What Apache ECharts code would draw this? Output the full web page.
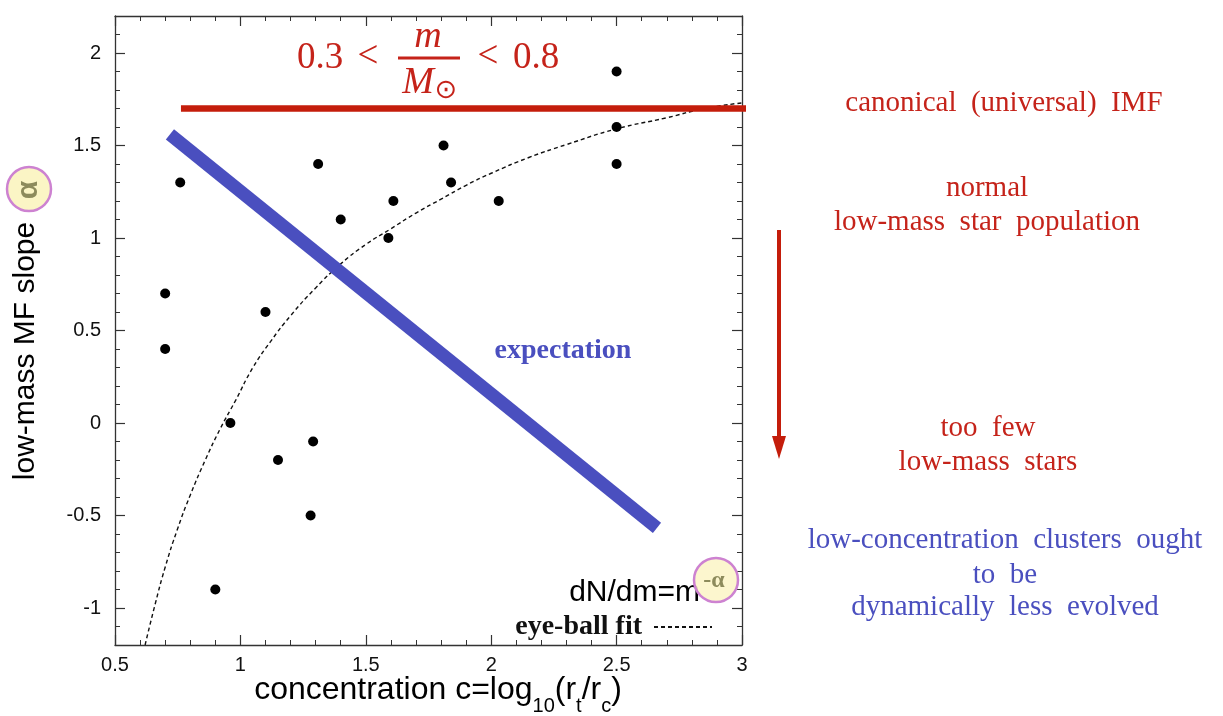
<!DOCTYPE html>
<html>
<head>
<meta charset="utf-8">
<script src="https://cdn.jsdelivr.net/npm/echarts@6/dist/echarts.min.js"></script>
<style>
  html, body { margin: 0; padding: 0; background: #fff; }
  #chart { width: 1223px; height: 716px; }
</style>
</head>
<body>
<div id="chart"></div>
<script>
// Globular clusters: low-mass mass-function slope against concentration
const clusterConcentration = [0.76, 0.70, 0.70, 1.10, 1.31, 1.40, 1.61, 1.59, 1.81, 1.84, 2.03, 2.50, 2.50, 2.50, 0.96, 1.15, 1.29, 1.28, 0.90];
const clusterSlope         = [1.30, 0.70, 0.40, 0.60, 1.40, 1.10, 1.20, 1.00, 1.50, 1.30, 1.20, 1.90, 1.60, 1.40, 0.00, -0.20, -0.10, -0.50, -0.90];

// hand-drawn ("eye-ball") fit through the clusters
const fitConcentration = [0.62, 0.66, 0.70, 0.75, 0.80, 0.86, 0.92, 0.98, 1.05, 1.12, 1.20, 1.30, 1.40, 1.50, 1.60, 1.70, 1.80, 1.90, 2.00, 2.15, 2.30, 2.50, 2.70, 2.85, 3.00];
const fitSlope         = [-1.20, -0.98, -0.78, -0.57, -0.39, -0.20, -0.03, 0.12, 0.30, 0.44, 0.58, 0.73, 0.86, 0.965, 1.05, 1.135, 1.21, 1.285, 1.35, 1.435, 1.505, 1.59, 1.65, 1.70, 1.73];

// expected trend: low-concentration clusters keep a steep slope
const expectationX = [0.719, 2.661];
const expectationY = [1.56, -0.567];

// canonical IMF slope for 0.3 < m/Msun < 0.8
const canonicalX = [0.763, 3.136];
const canonicalY = [1.7, 1.7];

const yMajorTicks = [-1, -0.5, 0, 0.5, 1, 1.5, 2];

const RED = '#c5231a';
const RED_LINE = '#c41d0b';
const BLUE = '#4a4fbf';
const AXIS = '#333';
const SANS = '"Liberation Sans", Arial, sans-serif';
const SERIF = '"Liberation Serif", "Times New Roman", serif';

const zip = (xs, ys) => xs.map((x, i) => [x, ys[i]]);
const isMajor = v => Math.abs(v * 2 - Math.round(v * 2)) < 1e-6;

function xAxisDef(position, showLabel) {
  return {
    type: 'value', position: position, min: 0.5, max: 3, interval: 0.5,
    axisLine: { show: true, onZero: false, lineStyle: { color: AXIS, width: 1.3 } },
    axisTick: { show: true, inside: true, length: 10, lineStyle: { color: AXIS, width: 1.2 } },
    minorTick: { show: true, splitNumber: 5, length: 5, lineStyle: { color: AXIS, width: 1 } },
    axisLabel: { show: showLabel, margin: 10, fontFamily: SANS, fontSize: 20, color: '#111' },
    splitLine: { show: false }, minorSplitLine: { show: false }
  };
}
function yMinorAxis(position, showLabel) {
  return {
    type: 'value', position: position, min: -1.2, max: 2.2, interval: 0.1,
    axisLine: { show: true, onZero: false, lineStyle: { color: AXIS, width: 1.3 } },
    axisTick: { show: true, inside: true, length: 5, lineStyle: { color: AXIS, width: 1 } },
    axisLabel: {
      show: showLabel, margin: 14, fontFamily: SANS, fontSize: 20, color: '#111',
      formatter: v => isMajor(v) ? String(Math.round(v * 2) / 2) : ''
    },
    splitLine: { show: false }
  };
}
function yMajorAxis(position) {
  return {
    type: 'value', position: position, min: -1.2, max: 2.2,
    axisLine: { show: false },
    axisTick: { show: true, inside: true, length: 10, customValues: yMajorTicks, lineStyle: { color: AXIS, width: 1.2 } },
    axisLabel: { show: false },
    splitLine: { show: false }
  };
}

const chart = echarts.init(document.getElementById('chart'), null, { renderer: 'canvas' });

chart.setOption({
  animation: false,
  backgroundColor: '#fff',
  grid: { left: 115, top: 16, width: 627, height: 629, containLabel: false },
  xAxis: [xAxisDef('bottom', true), xAxisDef('top', false)],
  yAxis: [yMinorAxis('left', true), yMajorAxis('left'), yMinorAxis('right', false), yMajorAxis('right')],
  legend: {
    data: ['eye-ball fit'],
    selectedMode: false,
    right: 510, top: 613, padding: 0,
    align: 'right',
    itemWidth: 58, itemHeight: 14,
    itemStyle: { opacity: 0 },
    textStyle: { fontFamily: SERIF, fontSize: 28, fontWeight: 'bold', color: '#111', padding: [0, 7, 0, 0] }
  },
  series: [
    {
      name: 'eye-ball fit', type: 'line', xAxisIndex: 0, yAxisIndex: 0,
      data: zip(fitConcentration, fitSlope),
      smooth: true, symbol: 'none', showSymbol: false,
      itemStyle: { color: '#111' },
      lineStyle: { color: '#111', width: 1.4, type: [4, 3] }, z: 2
    },
    {
      name: 'expectation', type: 'line', xAxisIndex: 0, yAxisIndex: 0,
      data: zip(expectationX, expectationY),
      symbol: 'none', showSymbol: false,
      lineStyle: { color: BLUE, width: 13, cap: 'butt' }, z: 3
    },
    {
      name: 'canonical IMF', type: 'line', xAxisIndex: 0, yAxisIndex: 0,
      data: zip(canonicalX, canonicalY),
      symbol: 'none', showSymbol: false, clip: false,
      lineStyle: { color: RED_LINE, width: 6.5, cap: 'butt' }, z: 4
    },
    {
      name: 'clusters', type: 'scatter', xAxisIndex: 0, yAxisIndex: 0,
      data: zip(clusterConcentration, clusterSlope),
      symbol: 'circle', symbolSize: 10,
      itemStyle: { color: '#000', opacity: 1 }, z: 5
    }
  ],
  graphic: [
    // y axis title with highlighted alpha
    { type: 'text', x: 26, y: 351, rotation: Math.PI / 2,
      style: { text: 'low-mass MF slope', fontFamily: SANS, fontSize: 30, fill: '#000', align: 'center', verticalAlign: 'middle' } },
    { type: 'circle', shape: { cx: 29, cy: 189, r: 22 },
      style: { fill: '#fbf5c5', stroke: '#cd82d1', lineWidth: 2.5 }, z: 10 },
    { type: 'text', x: 29, y: 190, rotation: Math.PI / 2, z: 11,
      style: { text: 'α', fontFamily: SANS, fontSize: 30, fontWeight: 'bold', fill: '#8d8b5c', align: 'center', verticalAlign: 'middle' } },

    // x axis title
    { type: 'text', x: 438, y: 716,
      style: {
        text: '{n|concentration c=log}{s|10}{n|(r}{s|t}{n|/r}{s|c}{n|)}',
        align: 'center', verticalAlign: 'bottom',
        rich: {
          n: { fontFamily: SANS, fontSize: 32, fill: '#000', color: '#000', verticalAlign: 'bottom', padding: [0, 0, 10, 0] },
          s: { fontFamily: SANS, fontSize: 20, fill: '#000', color: '#000', verticalAlign: 'bottom' }
        }
      } },

    // mass range of the fitted slope
    { type: 'text', x: 297, y: 58, style: { text: '0.3', fontFamily: SERIF, fontSize: 37, fill: RED, align: 'left', verticalAlign: 'middle' } },
    { type: 'text', x: 368, y: 57, style: { text: '<', fontFamily: SERIF, fontSize: 37, fill: RED, align: 'center', verticalAlign: 'middle' } },
    { type: 'text', x: 428, y: 37, style: { text: 'm', fontFamily: SERIF, fontSize: 38, fontStyle: 'italic', fill: RED, align: 'center', verticalAlign: 'middle' } },
    { type: 'line', shape: { x1: 398, y1: 58, x2: 460, y2: 58 }, style: { stroke: RED, lineWidth: 3 } },
    { type: 'text', x: 418, y: 83, style: { text: 'M', fontFamily: SERIF, fontSize: 38, fontStyle: 'italic', fill: RED, align: 'center', verticalAlign: 'middle' } },
    { type: 'text', x: 446, y: 91, style: { text: '⊙', fontFamily: '"DejaVu Sans"', fontSize: 27, fill: RED, align: 'center', verticalAlign: 'middle' } },
    { type: 'text', x: 488, y: 57, style: { text: '<', fontFamily: SERIF, fontSize: 37, fill: RED, align: 'center', verticalAlign: 'middle' } },
    { type: 'text', x: 513, y: 58, style: { text: '0.8', fontFamily: SERIF, fontSize: 37, fill: RED, align: 'left', verticalAlign: 'middle' } },

    // expectation label
    { type: 'text', x: 563, y: 351, style: { text: 'expectation', fontFamily: SERIF, fontSize: 28, fontWeight: 'bold', fill: BLUE, align: 'center', verticalAlign: 'middle' } },

    // legend entry for the mass function definition
    { type: 'text', x: 700, y: 593, style: { text: 'dN/dm=m', fontFamily: SANS, fontSize: 30, fill: '#000', align: 'right', verticalAlign: 'middle' } },
    { type: 'circle', shape: { cx: 716, cy: 580, r: 22 }, style: { fill: 'rgba(251,245,197,0.85)', stroke: '#cd82d1', lineWidth: 2.5 }, z: 10 },
    { type: 'text', x: 714, y: 581, z: 11, style: { text: '-α', fontFamily: SERIF, fontSize: 24, fontWeight: 'bold', fill: '#8d8b5c', align: 'center', verticalAlign: 'middle' } },

    // right-hand notes
    { type: 'text', x: 1004, y: 103, style: { text: 'canonical  (universal)  IMF', fontFamily: SERIF, fontSize: 29, fill: RED, align: 'center', verticalAlign: 'middle' } },
    { type: 'text', x: 987, y: 188, style: { text: 'normal', fontFamily: SERIF, fontSize: 29, fill: RED, align: 'center', verticalAlign: 'middle' } },
    { type: 'text', x: 987, y: 222, style: { text: 'low-mass  star  population', fontFamily: SERIF, fontSize: 29, fill: RED, align: 'center', verticalAlign: 'middle' } },
    { type: 'line', shape: { x1: 779, y1: 230, x2: 779, y2: 440 }, style: { stroke: RED_LINE, lineWidth: 4 } },
    { type: 'polygon', shape: { points: [[772, 436], [786, 436], [779, 459]] }, style: { fill: RED_LINE } },
    { type: 'text', x: 988, y: 428, style: { text: 'too  few', fontFamily: SERIF, fontSize: 29, fill: RED, align: 'center', verticalAlign: 'middle' } },
    { type: 'text', x: 988, y: 462, style: { text: 'low-mass  stars', fontFamily: SERIF, fontSize: 29, fill: RED, align: 'center', verticalAlign: 'middle' } },
    { type: 'text', x: 1005, y: 540, style: { text: 'low-concentration  clusters  ought', fontFamily: SERIF, fontSize: 29, fill: BLUE, align: 'center', verticalAlign: 'middle' } },
    { type: 'text', x: 1005, y: 575, style: { text: 'to  be', fontFamily: SERIF, fontSize: 29, fill: BLUE, align: 'center', verticalAlign: 'middle' } },
    { type: 'text', x: 1005, y: 607, style: { text: 'dynamically  less  evolved', fontFamily: SERIF, fontSize: 29, fill: BLUE, align: 'center', verticalAlign: 'middle' } }
  ]
});
</script>
</body>
</html>
